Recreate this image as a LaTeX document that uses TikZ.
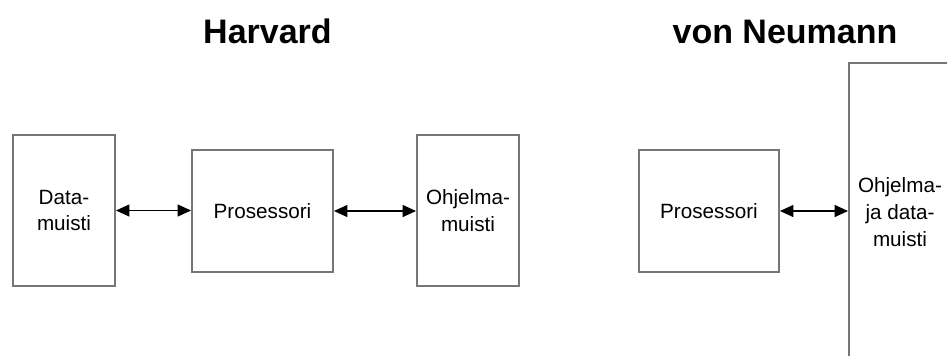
\documentclass[tikz,border=0pt]{standalone}
\usepackage{fontspec}
\setmainfont{Liberation Sans}
\usetikzlibrary{arrows.meta}
\definecolor{boxgray}{RGB}{118,118,118}
\begin{document}
\begin{tikzpicture}[x=0.75pt,y=-0.75pt,
  unit/.style={draw=boxgray, line width=1.5pt, fill=white, inner sep=0pt,
    align=center, font=\fontsize{15.5}{20}\selectfont},
  title/.style={font=\bfseries\fontsize{25.5}{30}\selectfont, anchor=base},
  link/.style={black, line width=0.8pt,
    {Triangle[length=10pt,width=9pt]}-{Triangle[length=10pt,width=9pt]}}]
  \useasboundingbox (0,0) rectangle (947,355);
  \clip (0,0) rectangle (947,355);
  \fill[white] (0,0) rectangle (947,355);

  % Harvard architecture
  \node[title] (harvard) at (267.5,43) {Harvard};
  \node[unit, minimum width=76.5pt, minimum height=113.25pt] (dmem) at (64,210.5) {Data-\\muisti};
  \node[unit, minimum width=105.75pt, minimum height=91.5pt] (cpuh) at (262.5,211) {Prosessori};
  \node[unit, minimum width=76.5pt, minimum height=113.25pt] (pmem) at (468,210.5) {Ohjelma-\\muisti};
  \draw[link] (dmem.east) -- (dmem.east -| cpuh.west);
  \draw[link] (cpuh.east) -- (cpuh.east -| pmem.west);

  % von Neumann architecture
  \node[title] (vonneumann) at (785,43) {von Neumann};
  \node[unit, minimum width=105pt, minimum height=91.5pt] (cpuv) at (709,211) {Prosessori};
  \node[unit, minimum width=76.5pt, minimum height=223.5pt] (mem) at (900,212) {Ohjelma-\\ja data-\\muisti};
  \draw[link] (cpuv.east) -- (cpuv.east -| mem.west);
\end{tikzpicture}
\end{document}
